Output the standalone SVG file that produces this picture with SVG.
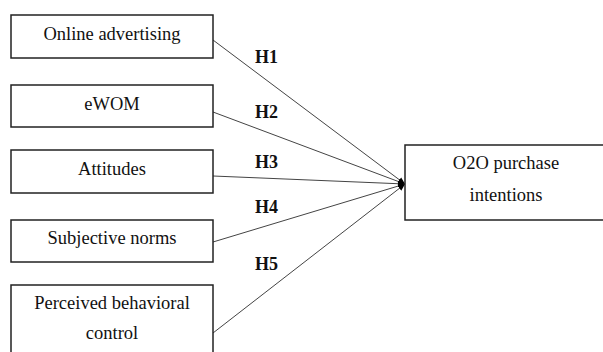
<svg xmlns="http://www.w3.org/2000/svg" width="603" height="352" viewBox="0 0 603 352">
<style>
.box{fill:#fff;stroke:#222;stroke-width:1.5}
.t{font-family:"Liberation Serif","Times New Roman",serif;font-size:18.5px;fill:#111;text-anchor:middle}
.h{font-family:"Liberation Serif","Times New Roman",serif;font-size:18px;font-weight:bold;fill:#111}
.c{stroke:#444;stroke-width:1;fill:none;marker-end:url(#ah)}
</style>
<defs>
<marker id="ah" markerWidth="8" markerHeight="8" refX="7" refY="4" orient="auto" markerUnits="userSpaceOnUse">
<path d="M0,1 L7,4 L0,7 Z" fill="#000"/>
</marker>
</defs>
<rect width="603" height="352" fill="#fff"/>
<g id="connectors">
<line class="c" x1="213" y1="40" x2="405" y2="184"/>
<line class="c" x1="213" y1="112" x2="405" y2="184"/>
<line class="c" x1="213" y1="176" x2="405" y2="184"/>
<line class="c" x1="213" y1="242" x2="405" y2="184"/>
<line class="c" x1="213" y1="333" x2="405" y2="184"/>
<text class="h" x="255" y="63">H1</text>
<text class="h" x="255" y="118">H2</text>
<text class="h" x="255" y="168">H3</text>
<text class="h" x="255" y="213">H4</text>
<text class="h" x="255" y="270">H5</text>
</g>
<g id="n1"><rect class="box" x="11" y="15" width="202" height="43"/><text class="t" x="112" y="40">Online advertising</text></g>
<g id="n2"><rect class="box" x="11" y="85" width="202" height="42"/><text class="t" x="112" y="110">eWOM</text></g>
<g id="n3"><rect class="box" x="11" y="150" width="202" height="43"/><text class="t" x="112" y="175">Attitudes</text></g>
<g id="n4"><rect class="box" x="11" y="220" width="202" height="42"/><text class="t" x="112" y="244">Subjective norms</text></g>
<g id="n5"><rect class="box" x="11" y="285" width="202" height="72"/><text class="t" x="112" y="309">Perceived behavioral</text><text class="t" x="112" y="339">control</text></g>
<g id="n6"><rect class="box" x="405" y="145" width="203" height="75"/><text class="t" x="506" y="169">O2O purchase</text><text class="t" x="506" y="201">intentions</text></g>
</svg>
